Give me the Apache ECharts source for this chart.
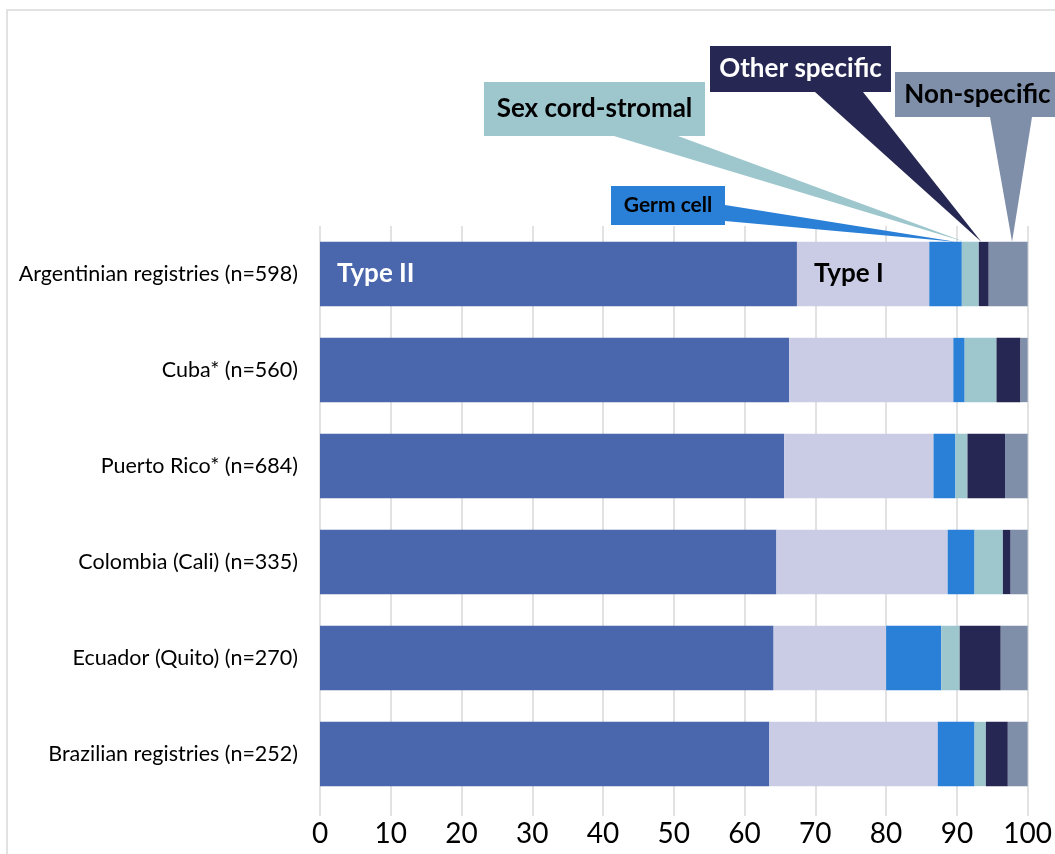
<!DOCTYPE html>
<html>
<head>
<meta charset="utf-8">
<script src="https://cdn.jsdelivr.net/npm/echarts@6/dist/echarts.min.js"></script>
<style>
  html, body { margin: 0; padding: 0; background: #fff; }
  #chart { width: 1055px; height: 854px; }
</style>
</head>
<body>
<div id="chart"></div>
<script>
// categories, top to bottom
const categories = [
    'Argentinian registries (n=598)',
    'Cuba* (n=560)',
    'Puerto Rico* (n=684)',
    'Colombia (Cali) (n=335)',
    'Ecuador (Quito) (n=270)',
    'Brazilian registries (n=252)'
];

// percentage of cases per histologic group
const typeII      = [67.4, 66.3, 65.6, 64.5, 64.1, 63.5];
const typeI       = [18.7, 23.2, 21.1, 24.2, 15.9, 23.8];
const germCell    = [4.6, 1.6, 3.1, 3.8, 7.8, 5.2];
const sexCord     = [2.4, 4.5, 1.7, 4.0, 2.6, 1.6];
const otherSpec   = [1.4, 3.4, 5.3, 1.1, 5.8, 3.1];
const nonSpec     = [5.5, 1.0, 3.2, 2.4, 3.8, 2.8];

const seriesNames = ['Type II', 'Type I', 'Germ cell', 'Sex cord-stromal', 'Other specific', 'Non-specific'];
const seriesData  = [typeII, typeI, germCell, sexCord, otherSpec, nonSpec];
const seriesColors = ['#4a66ac', '#cacce6', '#2a7fd6', '#9dc6cd', '#262853', '#7f8fa9'];

const xTicks = [0, 10, 20, 30, 40, 50, 60, 70, 80, 90, 100];

const FONT = 'Lato, "Noto Sans", sans-serif';

/**
 * series build — first row of Type II / Type I carries an inline label
 */
function buildSeries() {
    return seriesData.map(function(values, s) {
        const data = values.map(function(v, i) {
            if (i === 0 && s < 2) {
                return {
                    value: v,
                    label: {
                        show: true,
                        position: 'insideLeft',
                        distance: 17,
                        formatter: seriesNames[s],
                        color: s === 0 ? '#fff' : '#000',
                        fontFamily: FONT,
                        fontWeight: 'bold',
                        fontSize: 26
                    }
                };
            }
            return v;
        });
        return {
            name: seriesNames[s],
            type: 'bar',
            stack: 'total',
            barWidth: '67%',
            itemStyle: { color: seriesColors[s] },
            data: data
        };
    });
}

const chart = echarts.init(document.getElementById('chart'), null, { renderer: 'canvas' });

chart.setOption({
    animation: false,
    backgroundColor: '#fff',
    grid: { left: 320, right: 26, top: 226, bottom: 52, containLabel: false },
    xAxis: {
        type: 'value',
        min: xTicks[0],
        max: xTicks[xTicks.length - 1],
        interval: 10,
        axisLine: { show: false },
        axisTick: { show: true, length: 14, lineStyle: { color: '#d9d9d9', width: 1.5 } },
        splitLine: { show: true, lineStyle: { color: '#d9d9d9', width: 1.5 } },
        axisLabel: { color: '#000', fontFamily: FONT, fontSize: 28, margin: 18 }
    },
    yAxis: {
        type: 'category',
        inverse: true,
        data: categories,
        axisLine: { show: false },
        axisTick: { show: false },
        axisLabel: { color: '#000', fontFamily: FONT, fontSize: 21.5, margin: 22 }
    },
    series: buildSeries()
});

/**
 * callouts — box + wedge pointing at a segment of the first bar
 * tipFrac: where along the segment the wedge tip lands
 */
const callouts = [
    { series: 3, tipFrac: 0.15, box: [484, 82, 221, 54], base: [[614, 136], [678, 136]],
      text: 'Sex cord-stromal', textColor: '#000', fontSize: 26 },
    { series: 4, tipFrac: 0.25, box: [710, 46, 181, 46], base: [[815, 92], [863, 92]],
      text: 'Other specific', textColor: '#fff', fontSize: 26 },
    { series: 5, tipFrac: 0.6, box: [895, 72, 165, 45], base: [[990, 117], [1032, 117]],
      text: 'Non-specific', textColor: '#000', fontSize: 26 },
    { series: 2, tipFrac: 0.8, box: [611, 186, 114, 39], base: [[725, 205], [725, 221]],
      text: 'Germ cell', textColor: '#000', fontSize: 21 }
];

function drawCallouts() {
    const c0 = chart.convertToPixel({ gridIndex: 0 }, [0, 0]);
    const c1 = chart.convertToPixel({ gridIndex: 0 }, [0, 1]);
    const halfBar = Math.abs(c1[1] - c0[1]) * 0.67 / 2;
    const barTop = c0[1] - halfBar;

    const elements = [{
        type: 'rect',
        shape: { x: 7, y: 10, width: 1060, height: 860 },
        style: { fill: 'none', stroke: '#d9d9d9', lineWidth: 1.5 },
        z: 1
    }];

    callouts.forEach(function(c, k) {
        let start = 0;
        for (let s = 0; s < c.series; s++) start += seriesData[s][0];
        const tipVal = start + seriesData[c.series][0] * c.tipFrac;
        const tipX = chart.convertToPixel({ xAxisIndex: 0 }, tipVal);
        const color = seriesColors[c.series];
        elements.push({
            type: 'polygon',
            shape: { points: [c.base[0], c.base[1], [tipX, barTop]] },
            style: { fill: color },
            z: 10 + k
        });
        elements.push({
            type: 'rect',
            shape: { x: c.box[0], y: c.box[1], width: c.box[2], height: c.box[3] },
            style: { fill: color },
            z: 10 + k
        });
        elements.push({
            type: 'text',
            x: c.box[0] + c.box[2] / 2,
            y: c.box[1] + c.box[3] / 2,
            style: {
                text: c.text,
                fill: c.textColor,
                font: 'bold ' + c.fontSize + 'px ' + FONT,
                align: 'center',
                verticalAlign: 'middle'
            },
            z: 10 + k
        });
    });

    chart.setOption({ graphic: { elements: elements } });
}

drawCallouts();
</script>
</body>
</html>
